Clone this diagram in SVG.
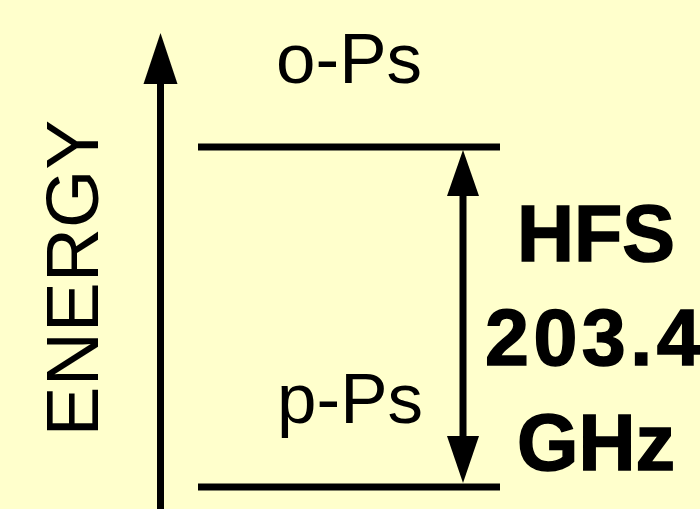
<svg xmlns="http://www.w3.org/2000/svg" width="700" height="509" viewBox="0 0 700 509">
<style>
.lbl{font-family:"Liberation Sans",Arial,sans-serif;fill:#000}
.big{font-family:"Liberation Sans",Arial,sans-serif;font-weight:bold;fill:#000;stroke:#000;stroke-width:1.5;font-size:79px}
.ln{stroke:#000;stroke-width:7;fill:none}
</style>
<rect width="700" height="509" fill="#FFFFCC"/>
<g id="axis">
<line class="ln" x1="160.5" y1="80" x2="160.5" y2="509"/>
<polygon points="160.5,33 143.5,84 177.5,84" fill="#000"/>
<text class="lbl" font-size="75" transform="translate(98,278) rotate(-90)" text-anchor="middle">ENERGY</text>
</g>
<g id="o-Ps">
<line class="ln" x1="198" y1="147" x2="500" y2="147"/>
<text class="lbl" font-size="71" x="349" y="83" text-anchor="middle">o-Ps</text>
</g>
<g id="p-Ps">
<line class="ln" x1="198" y1="487" x2="500" y2="487"/>
<text class="lbl" font-size="71" x="350" y="423" text-anchor="middle">p-Ps</text>
</g>
<g id="connectors">
<line class="ln" x1="463" y1="190" x2="463" y2="440"/>
<polygon points="463,150 447,196 479,196" fill="#000"/>
<polygon points="463,483 447,436 479,436" fill="#000"/>
</g>
<g id="hfs">
<text class="big" x="596" y="261" text-anchor="middle">HFS</text>
<text class="big" x="485" y="365" letter-spacing="4.5">203.4</text>
<text class="big" x="596" y="470" text-anchor="middle">GHz</text>
</g>
</svg>
